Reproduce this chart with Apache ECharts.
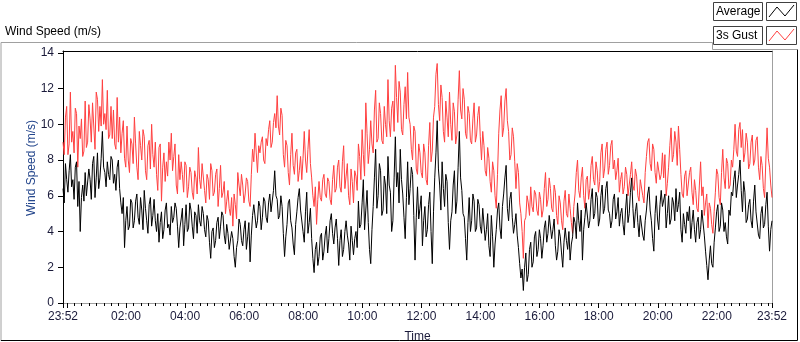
<!DOCTYPE html>
<html>
<head>
<meta charset="utf-8">
<script src="https://cdn.jsdelivr.net/npm/echarts@6/dist/echarts.min.js"></script>
<style>
  html, body { margin: 0; padding: 0; background: #fff; }
  #chart { width: 800px; height: 342px; }
</style>
</head>
<body>
<div id="chart"></div>
<script>
// one sample every 2.5 minutes, starting 23:52 the day before (-8 min)
const startMinute = -8;
const stepMinutes = 2.5;

// 3s Gust (m/s)
const gust = [
  9.0, 8.3, 10.4, 11.0, 8.3, 8.9, 11.8, 9.0, 9.6, 8.4, 10.9, 10.6, 7.6, 9.9, 9.2, 10.3, 8.2, 8.5, 11.3, 8.7,
  9.0, 11.1, 10.3, 9.0, 11.2, 11.3, 8.6, 11.8, 11.4, 9.6, 11.0, 9.9, 12.5, 10.0, 10.6, 9.7, 11.9, 9.2, 9.4, 11.0,
  9.2, 10.8, 8.9, 8.6, 11.5, 9.0, 10.4, 8.4, 9.5, 10.2, 8.1, 7.6, 9.9, 8.0, 7.3, 9.2, 8.9, 7.8, 10.4, 8.9,
  7.6, 6.9, 9.6, 8.8, 8.0, 9.7, 9.3, 7.4, 6.9, 8.8, 9.1, 7.5, 10.0, 8.3, 7.6, 9.0, 7.2, 6.3, 8.7, 8.9,
  5.7, 7.6, 8.4, 6.8, 7.9, 7.1, 9.0, 8.0, 9.5, 7.4, 8.2, 8.9, 6.6, 6.1, 8.3, 6.9,
  7.9, 7.2, 6.2, 7.9, 7.7, 5.9, 6.5, 7.6, 7.3, 6.2, 5.8, 7.4, 7.0, 6.1, 8.7, 6.9, 6.4, 7.8, 7.7, 6.3,
  5.6, 7.2, 6.9, 5.8, 7.8, 7.4, 6.0, 6.2, 7.2, 7.5, 5.4, 6.4, 7.7, 5.9, 6.2, 6.8, 5.0, 5.7, 6.3, 5.3,
  4.9, 5.9, 4.3, 6.1, 5.5, 4.7, 7.3, 6.6, 6.0, 7.2, 6.6, 5.6, 6.1, 7.0, 6.8, 5.7, 5.4, 7.2, 8.6, 7.9,
  9.5, 8.4, 7.3, 8.8, 8.4, 9.0, 9.3, 8.0, 7.8, 9.2, 8.8, 9.7, 10.2, 8.7, 9.0, 10.1, 10.6, 9.8, 11.6, 9.9,
  9.4, 10.9, 10.5, 8.3, 7.6, 9.1, 8.8, 7.3, 6.6, 8.3, 9.5, 7.7, 7.2, 8.4, 8.6, 6.8, 7.4, 8.2,
  6.9, 8.1, 9.6, 8.0, 7.3, 8.6, 9.7, 7.8, 7.0, 6.0, 5.4, 6.5, 4.4, 5.8, 6.8, 5.9, 5.7, 6.9, 7.2, 6.1,
  5.9, 7.0, 6.8, 5.8, 5.5, 6.9, 7.7, 6.2, 6.4, 7.6, 8.0, 6.5, 6.2, 7.9, 8.8, 6.4, 7.1, 7.8, 6.0, 5.5,
  7.5, 6.8, 5.6, 7.4, 7.1, 6.3, 8.9, 8.2, 6.9, 9.7, 8.3, 7.1, 11.2, 9.5, 7.8, 8.6, 10.2, 8.9, 8.4, 10.8,
  11.9, 9.0, 9.2, 11.2, 10.6, 9.1, 8.9, 11.0, 10.0, 9.3, 12.5, 10.2, 9.3, 10.9, 11.3, 9.6, 13.3, 11.5, 10.1, 12.4,
  11.8, 9.7, 9.4, 11.1, 12.1, 10.3, 12.9, 10.4, 10.0, 8.6, 8.0, 9.9, 9.6, 7.5, 7.2, 8.9, 8.4, 7.3,
  7.0, 8.9, 8.4, 6.9, 6.6, 8.8, 10.1, 7.9, 8.5, 10.4, 11.0, 12.8, 13.4, 11.1, 10.2, 12.2, 11.5, 9.6, 9.0, 11.3,
  10.4, 9.3, 11.8, 10.0, 9.1, 11.2, 10.7, 8.9, 9.4, 11.4, 13.0, 10.8, 10.3, 12.0, 11.4, 9.5, 9.2, 11.0, 10.6, 9.1,
  8.9, 10.3, 11.2, 9.0, 9.4, 10.5, 11.0, 9.3, 8.0, 9.6, 8.8, 7.4, 7.1, 8.7, 8.1, 6.8, 6.2, 7.9, 7.4, 6.0,
  5.3, 7.2, 9.5, 10.8, 11.6, 9.3, 9.8, 11.3, 12.0, 10.2, 9.6, 8.0, 8.3, 9.8, 9.3, 7.9, 6.4, 7.8, 7.3, 5.6,
  5.0, 4.0, 2.5, 4.6, 4.8, 6.0, 5.6, 4.9, 6.5, 5.4, 5.1, 6.3, 6.1, 5.2, 4.9, 6.2, 5.8, 4.8,
  5.2, 6.4, 7.3, 5.4, 5.8, 7.0, 6.4, 5.3, 5.1, 6.6, 6.2, 4.9, 4.4, 6.0, 5.6, 4.6, 4.1, 5.7, 6.3, 5.0,
  4.8, 6.1, 5.3, 4.5, 3.9, 5.4, 6.1, 7.3, 8.0, 6.3, 5.9, 7.0, 7.6, 6.0, 5.3, 6.9, 7.1, 5.8, 6.4, 7.7,
  8.2, 6.9, 6.6, 7.9, 7.4, 6.2, 6.8, 8.4, 8.9, 7.0, 7.5, 8.6, 9.0, 7.2, 7.7, 8.8, 9.1, 7.5, 8.0, 6.9,
  7.4, 8.1, 6.2, 6.9, 7.3, 6.1, 6.5, 7.6, 7.2, 6.0, 5.9, 7.2, 7.9, 6.6, 6.3, 7.5, 7.1, 6.0, 5.7, 6.9,
  6.8, 6.0, 5.6, 7.3, 8.2, 9.0, 9.2, 7.8, 7.4, 8.9, 8.6, 7.3, 6.7, 7.9, 8.0, 6.9, 7.2, 8.4,
  7.0, 8.3, 6.0, 6.7, 7.6, 8.8, 9.8, 7.9, 8.3, 9.6, 9.0, 7.7, 9.9, 8.6, 7.2, 6.1, 5.9, 7.1, 7.4, 6.0,
  6.1, 7.3, 7.6, 6.2, 5.5, 6.9, 6.3, 5.3, 5.1, 6.6, 7.9, 6.0, 6.5, 4.9, 5.6, 6.1, 4.2, 5.6, 5.3, 4.4,
  3.9, 5.1, 6.2, 7.5, 7.2, 5.9, 5.5, 7.3, 8.6, 7.0, 6.4, 8.1, 7.8, 6.4, 6.6, 8.0, 7.6, 8.6, 10.0, 8.5,
  8.2, 9.7, 10.1, 8.7, 9.7, 7.9, 8.4, 9.5, 9.0, 7.5, 7.8, 9.0, 9.4, 7.7, 8.0, 9.1, 9.3, 7.6, 6.9, 8.2,
  7.7, 6.4, 5.9, 8.0, 9.8, 8.1, 7.6, 6.6, 5.9
];

// Average (m/s)
const average = [
  6.4, 5.6, 7.8, 6.9, 6.2, 7.4, 8.3, 6.5, 6.9, 5.8, 7.6, 7.9, 5.4, 6.8, 4.0, 5.9, 6.6, 5.7, 7.3, 6.0,
  6.1, 7.5, 6.9, 5.8, 7.8, 8.2, 5.9, 7.0, 8.4, 6.4, 7.0, 8.1, 9.6, 7.6, 7.3, 6.5, 7.9, 7.2, 6.9, 8.2,
  8.0, 6.7, 7.2, 6.3, 7.6, 8.0, 6.4, 5.6, 5.0, 5.9, 3.1, 4.6, 5.4, 4.1, 4.3, 5.8, 5.6, 4.2, 4.6, 5.7,
  6.1, 4.8, 4.4, 5.9, 5.2, 4.1, 6.3, 5.3, 4.6, 3.9, 5.5, 5.9, 4.3, 4.9, 5.8, 4.6, 4.0, 5.0, 3.4, 4.5,
  5.1, 3.6, 4.1, 5.2, 5.6, 4.2, 4.4, 3.8, 5.4, 4.5, 4.8, 5.6, 5.3, 4.3, 3.1, 4.2,
  4.7, 5.3, 3.2, 4.4, 5.5, 4.0, 4.2, 5.6, 5.2, 4.3, 3.6, 5.1, 4.9, 3.9, 5.5, 4.6, 4.3, 5.4, 5.0, 4.1,
  3.7, 4.9, 4.6, 3.4, 2.5, 4.0, 4.2, 3.1, 3.5, 4.5, 4.8, 3.6, 4.3, 5.1, 4.9, 3.8, 3.3, 4.4, 3.9, 3.0,
  2.9, 4.0, 3.6, 2.6, 2.0, 3.1, 3.5, 4.7, 4.4, 3.5, 3.2, 4.1, 4.6, 3.0, 3.7, 4.5, 2.3, 3.8, 4.9, 5.5,
  5.6, 4.2, 4.6, 5.7, 5.4, 4.1, 4.8, 5.9, 5.7, 4.8, 4.5, 5.6, 6.1, 5.1, 5.0, 6.3, 7.4, 6.0, 5.8, 4.7,
  4.9, 6.0, 5.4, 3.9, 2.6, 3.7, 4.4, 5.6, 5.8, 4.6, 4.2, 3.3, 2.7, 4.4, 5.1, 5.9, 6.4, 5.2,
  5.2, 4.0, 3.4, 5.1, 6.2, 3.9, 4.5, 5.3, 3.6, 2.5, 1.7, 3.0, 3.4, 2.1, 2.6, 3.7, 3.9, 2.4, 2.9, 3.8,
  4.3, 2.8, 3.6, 4.6, 5.0, 3.9, 3.3, 4.2, 4.7, 3.6, 2.1, 3.5, 4.1, 2.6, 3.0, 4.0, 4.6, 3.8, 3.3, 2.4,
  4.3, 3.5, 2.7, 3.6, 4.0, 3.1, 5.7, 4.2, 4.4, 5.6, 6.9, 4.1, 5.2, 6.3, 4.5, 3.0, 2.2, 4.1, 5.4, 7.0,
  8.6, 5.3, 6.0, 7.8, 7.4, 4.9, 5.2, 7.1, 6.6, 5.0, 8.2, 6.6, 6.2, 4.0, 4.6, 7.0, 9.3, 6.5, 7.3, 5.6,
  8.6, 6.9, 6.1, 4.8, 3.6, 5.9, 7.9, 5.5, 6.4, 7.6, 7.2, 4.9, 2.4, 4.8, 6.5, 4.7, 5.3, 6.0,
  3.2, 4.6, 5.4, 3.7, 4.1, 5.5, 6.2, 4.0, 2.2, 5.1, 7.0, 8.4, 10.2, 7.5, 6.6, 5.2, 7.9, 6.4, 5.4, 7.2,
  6.8, 4.5, 3.0, 4.6, 5.1, 6.6, 7.4, 5.0, 5.7, 7.6, 9.6, 7.0, 6.3, 5.0, 4.8, 3.6, 2.4, 4.5, 5.9, 4.0,
  4.6, 6.1, 5.7, 4.0, 4.2, 5.8, 5.5, 4.3, 3.9, 5.3, 5.2, 3.5, 4.1, 5.0, 3.2, 2.6, 4.9, 3.7, 2.0, 3.3,
  4.1, 5.2, 5.6, 4.2, 3.6, 5.4, 6.1, 7.0, 7.7, 5.3, 4.6, 5.8, 6.2, 4.8, 3.9, 4.4, 5.0, 3.8, 3.1, 2.2,
  1.4, 1.9, 0.7, 2.0, 2.8, 1.2, 1.6, 3.0, 3.4, 2.0, 2.3, 3.7, 4.0, 2.6, 3.0, 4.1, 3.6, 2.5,
  3.2, 4.2, 4.6, 3.4, 3.9, 4.9, 4.8, 3.6, 4.1, 4.7, 3.2, 2.4, 2.9, 4.1, 3.7, 2.8, 2.0, 3.4, 4.2, 3.5,
  3.0, 4.0, 2.4, 3.3, 3.7, 4.8, 4.5, 3.6, 5.6, 4.6, 4.0, 5.2, 2.4, 4.1, 4.8, 5.6, 5.5, 4.2, 4.6, 5.8,
  6.4, 4.7, 5.0, 6.2, 5.9, 4.3, 4.7, 6.0, 6.6, 5.0, 5.3, 6.4, 6.8, 5.2, 5.0, 4.2, 4.6, 5.8, 6.1, 4.7,
  5.1, 5.9, 4.3, 5.0, 5.3, 4.4, 3.8, 5.2, 6.1, 4.5, 5.0, 6.2, 7.0, 5.3, 4.2, 5.1, 5.6, 4.5, 3.7, 4.9,
  4.9, 3.8, 3.5, 4.6, 5.2, 6.1, 6.5, 5.2, 4.6, 3.6, 2.9, 5.0, 6.0, 4.7, 4.1, 5.5, 6.3, 5.4,
  5.4, 6.1, 4.2, 5.0, 6.0, 4.4, 4.7, 5.9, 5.6, 4.6, 6.4, 5.1, 5.5, 6.2, 4.1, 3.4, 5.0, 4.4, 3.9, 5.1,
  4.6, 5.4, 3.6, 4.5, 5.2, 4.1, 3.4, 4.5, 4.8, 3.6, 4.1, 5.2, 5.3, 3.8, 2.9, 2.1, 1.3, 2.4, 3.2, 2.2,
  2.0, 3.4, 4.2, 5.1, 5.5, 4.0, 4.3, 5.6, 5.2, 4.0, 4.5, 3.7, 3.3, 5.2, 4.9, 6.2, 6.0, 6.9, 7.4, 5.9,
  6.6, 7.2, 8.0, 6.3, 5.1, 6.8, 6.2, 4.5, 4.7, 5.5, 5.8, 4.6, 4.2, 5.7, 6.6, 5.1, 5.0, 3.8, 3.6, 5.0,
  5.4, 4.2, 4.4, 5.5, 6.2, 4.3, 2.9, 4.1, 4.6
];

// tick labels (minutes from midnight)
const xLabelMinutes = [-8, 120, 240, 360, 480, 600, 720, 840, 960, 1080, 1200, 1320, 1432];
const xMajorTicks = [-8, 0, 120, 240, 360, 480, 600, 720, 840, 960, 1080, 1200, 1320, 1432];
const xMinorTicks = [];
for (let m = 0; m <= 1425; m += 15) xMinorTicks.push(m);
const yTicks = [0, 2, 4, 6, 8, 10, 12, 14];

const textColor = '#1a1a3a';
const font = 'Liberation Sans, Arial, sans-serif';

function hhmm(v) {
  const m = ((Math.round(v) % 1440) + 1440) % 1440;
  return String(Math.floor(m / 60)).padStart(2, '0') + ':' + String(m % 60).padStart(2, '0');
}

const toPairs = arr => arr.map((v, i) => [startMinute + i * stepMinutes, v]);

const chart = echarts.init(document.getElementById('chart'));
const xMin = startMinute;
const xMax = startMinute + (gust.length - 1) * stepMinutes;

chart.setOption({
  animation: false,
  backgroundColor: '#fff',
  textStyle: { fontFamily: font },
  grid: { left: 63, right: 28, top: 51, bottom: 39, show: false, outerBoundsMode: 'none', containLabel: false },
  xAxis: [
    {
      type: 'value', position: 'bottom', min: xMin, max: xMax,
      name: 'Time', nameLocation: 'middle', nameGap: 28, nameMoveOverlap: false,
      nameTextStyle: { color: textColor, fontSize: 12, fontFamily: font },
      axisLine: { show: true, onZero: false, lineStyle: { color: '#a0a0a0', width: 1 } },
      axisTick: { show: true, length: 5, customValues: xMajorTicks, lineStyle: { color: '#000' } },
      axisLabel: { customValues: xLabelMinutes, formatter: hhmm, color: textColor, fontSize: 12, margin: 8, fontFamily: font },
      splitLine: { show: false }
    },
    {
      type: 'value', position: 'bottom', min: xMin, max: xMax,
      axisLine: { show: false, onZero: false },
      axisTick: { show: true, length: 3, customValues: xMinorTicks, lineStyle: { color: '#000' } },
      axisLabel: { show: false },
      splitLine: { show: false }
    },
    {
      type: 'value', position: 'top', min: xMin, max: xMax,
      axisLine: { show: true, onZero: false, lineStyle: { color: '#000', width: 1 } },
      axisTick: { show: false }, axisLabel: { show: false }, splitLine: { show: false }
    }
  ],
  yAxis: [
    {
      type: 'value', position: 'left', min: 0, max: 14.1,
      name: 'Wind Speed (m/s)', nameLocation: 'middle', nameGap: 25, nameRotate: 90, nameMoveOverlap: false,
      nameTextStyle: { color: '#24468c', fontSize: 12, fontFamily: font, padding: [0, 0, 0, 18] },
      axisLine: { show: true, onZero: false, lineStyle: { color: '#000', width: 1 } },
      axisTick: { show: true, length: 5, customValues: yTicks, lineStyle: { color: '#000' } },
      axisLabel: { customValues: yTicks, color: textColor, fontSize: 12, margin: 9, fontFamily: font },
      splitLine: { show: false }
    },
    {
      type: 'value', position: 'right', min: 0, max: 14.1,
      axisLine: { show: true, onZero: false, lineStyle: { color: '#a0a0a0', width: 1 } },
      axisTick: { show: false }, axisLabel: { show: false }, splitLine: { show: false }
    }
  ],
  series: [
    {
      name: '3s Gust', type: 'line', data: toPairs(gust), showSymbol: false,
      lineStyle: { color: '#ff4040', width: 1 }, itemStyle: { color: '#ff4040' }, z: 2
    },
    {
      name: 'Average', type: 'line', data: toPairs(average), showSymbol: false,
      lineStyle: { color: '#000', width: 1 }, itemStyle: { color: '#000' }, z: 3
    }
  ],
  graphic: [
    // outer panel frame
    { type: 'polyline', silent: true, shape: { points: [[1, 341], [1, 42.5], [712.5, 42.5], [712.5, 49.5], [797, 49.5]] },
      style: { stroke: '#a0a0a0', fill: null, lineWidth: 1 } },
    { type: 'polyline', silent: true, shape: { points: [[797.5, 49.5], [797.5, 340.5], [1, 340.5]] },
      style: { stroke: '#000', fill: null, lineWidth: 1 } },
    // title
    { type: 'text', left: 5, top: 26, style: { text: 'Wind Speed (m/s)', fill: '#000', font: '12px ' + font } },
    // legend: Average
    { type: 'rect', shape: { x: 713.5, y: 2.5, width: 49, height: 18 }, style: { fill: '#fff', stroke: '#404040', lineWidth: 1 } },
    { type: 'text', left: 716, top: 6, style: { text: 'Average', fill: '#000', font: '12px ' + font } },
    { type: 'rect', shape: { x: 766.5, y: 2.5, width: 30, height: 18 }, style: { fill: '#fff', stroke: '#404040', lineWidth: 1 } },
    { type: 'polyline', shape: { points: [[769, 17], [777, 7], [785, 16], [794, 5]] }, style: { stroke: '#000', fill: null, lineWidth: 1 } },
    // legend: 3s Gust
    { type: 'rect', shape: { x: 713.5, y: 26.5, width: 49, height: 18 }, style: { fill: '#fff', stroke: '#404040', lineWidth: 1 } },
    { type: 'text', left: 716, top: 30, style: { text: '3s Gust', fill: '#000', font: '12px ' + font } },
    { type: 'rect', shape: { x: 766.5, y: 26.5, width: 30, height: 18 }, style: { fill: '#fff', stroke: '#404040', lineWidth: 1 } },
    { type: 'polyline', shape: { points: [[769, 41], [777, 31], [785, 40], [794, 29]] }, style: { stroke: '#ff4040', fill: null, lineWidth: 1 } }
  ]
});
</script>
</body>
</html>
